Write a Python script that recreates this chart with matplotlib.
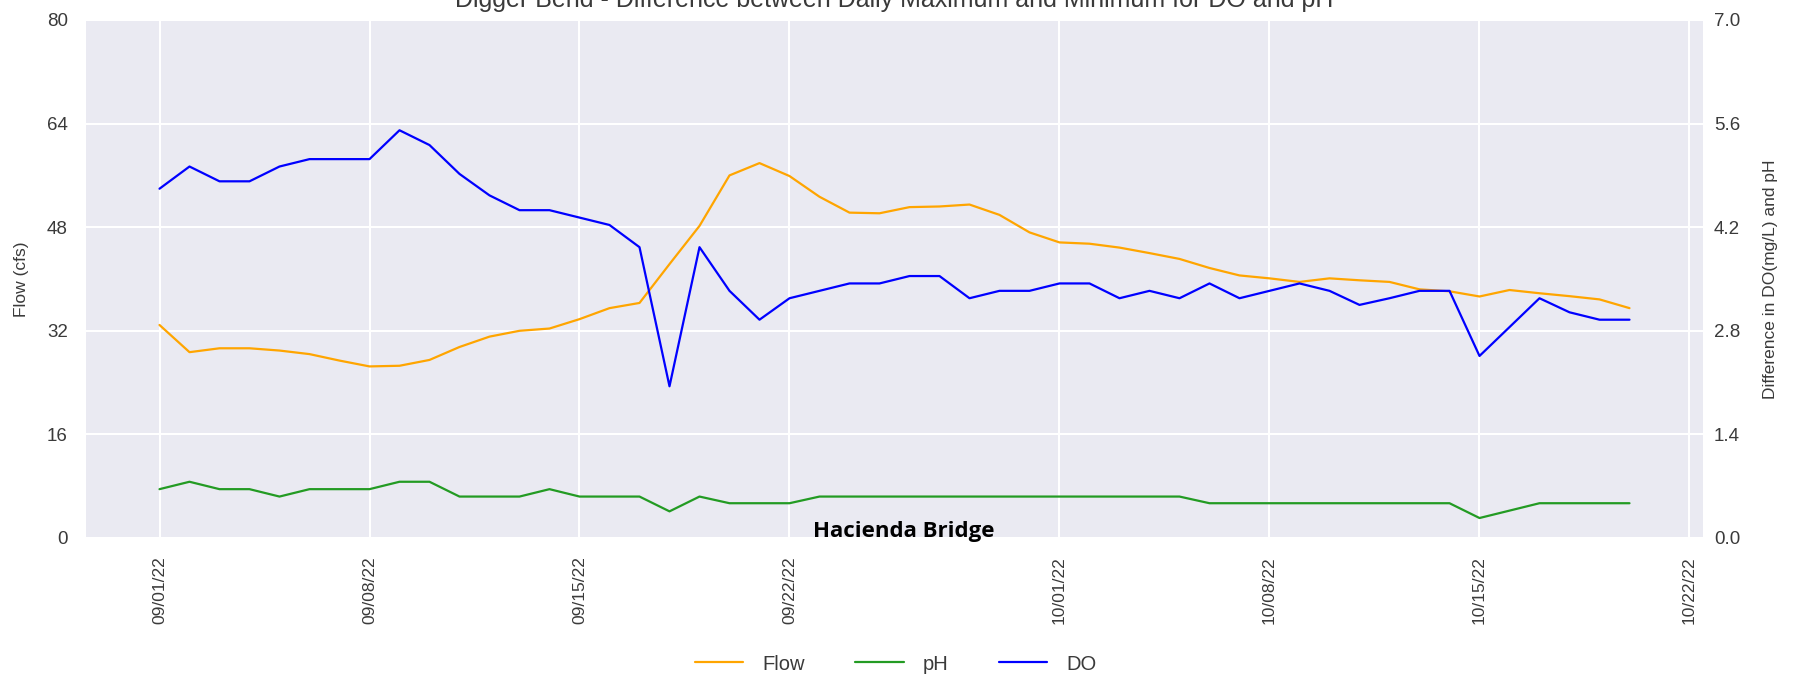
import matplotlib
matplotlib.use('Agg')
import matplotlib.pyplot as plt
import matplotlib.dates as mdates
from matplotlib.ticker import FormatStrFormatter
import numpy as np
import pandas as pd

# daily values, 09/01/22 - 10/20/22
dates = pd.date_range('2022-09-01', '2022-10-20', freq='D')

flow = [32.9, 28.7, 29.3, 29.3, 28.95, 28.4, 27.4, 26.5, 26.6, 27.5,
        29.5, 31.1, 32.0, 32.35, 33.8, 35.5, 36.3, 42.3, 48.2, 56.0,
        57.9, 55.9, 52.7, 50.25, 50.15, 51.1, 51.2, 51.5, 49.9, 47.2,
        45.65, 45.45, 44.85, 44.0, 43.1, 41.7, 40.55, 40.1, 39.55, 40.1,
        39.8, 39.55, 38.4, 38.1, 37.3, 38.3, 37.8, 37.35, 36.85, 35.5]

ph = [0.66, 0.76, 0.66, 0.66, 0.56, 0.66, 0.66, 0.66, 0.76, 0.76,
      0.56, 0.56, 0.56, 0.66, 0.56, 0.56, 0.56, 0.36, 0.56, 0.47,
      0.47, 0.47, 0.56, 0.56, 0.56, 0.56, 0.56, 0.56, 0.56, 0.56,
      0.56, 0.56, 0.56, 0.56, 0.56, 0.47, 0.47, 0.47, 0.47, 0.47,
      0.47, 0.47, 0.47, 0.47, 0.27, 0.37, 0.47, 0.47, 0.47, 0.47]

do = [4.72, 5.02, 4.82, 4.82, 5.02, 5.12, 5.12, 5.12, 5.51, 5.31,
      4.92, 4.63, 4.43, 4.43, 4.33, 4.23, 3.93, 2.05, 3.93, 3.34,
      2.95, 3.24, 3.34, 3.44, 3.44, 3.54, 3.54, 3.24, 3.34, 3.34,
      3.44, 3.44, 3.24, 3.34, 3.24, 3.44, 3.24, 3.34, 3.44, 3.34,
      3.15, 3.24, 3.34, 3.34, 2.46, 2.85, 3.24, 3.05, 2.95, 2.95]

plt.style.use('seaborn-v0_8')
plt.rcParams['font.family'] = ['Liberation Sans', 'DejaVu Sans']
plt.rcParams['grid.linewidth'] = 1.5

fig = plt.figure(figsize=(18.06, 6.8), dpi=100)
ax = fig.add_axes([86 / 1806, 1 - 538 / 680, 1617 / 1806, 518 / 680])
ax2 = ax.twinx()

l1, = ax.plot(dates, flow, color='orange', lw=1.6, label='Flow')
l2, = ax2.plot(dates, ph, color='#239b23', lw=1.6, label='pH')
l3, = ax2.plot(dates, do, color='blue', lw=1.6, label='DO')

# оси
ax.set_ylim(0, 80)
ax.set_yticks(np.linspace(0, 80, 6))
ax2.set_ylim(0, 7)
ax2.set_yticks(np.linspace(0, 7, 6))
ax2.yaxis.set_major_formatter(FormatStrFormatter('%.1f'))
ax2.grid(False)

ax.xaxis.set_major_locator(mdates.DayLocator(bymonthday=[1, 8, 15, 22]))
ax.xaxis.set_major_formatter(mdates.DateFormatter('%m/%d/%y'))
plt.setp(ax.get_xticklabels(), rotation=90)

ax.tick_params(axis='x', labelsize=12.5, pad=13, labelcolor='#3a3a3a')
ax.tick_params(axis='y', labelsize=13.5, pad=13, labelcolor='#3a3a3a')
ax2.tick_params(axis='y', labelsize=13.5, pad=8, labelcolor='#3a3a3a')

ax.set_ylabel('Flow (cfs)', fontsize=12.5, color='#3a3a3a')
ax.yaxis.set_label_coords(-0.035, 0.5)
ax2.set_ylabel('Difference in DO(mg/L) and pH', fontsize=12.5, color='#3a3a3a')
ax2.yaxis.set_label_coords(1.037, 0.5)

ax.set_title('Digger Bend - Difference between Daily Maximum and Minimum for DO and pH',
             fontsize=18, pad=9, color='#3a3a3a')

fig.text(813 / 1806, 1 - 537.5 / 680, 'Hacienda Bridge', family=['Open Sans', 'DejaVu Sans'],
         fontweight='bold', fontsize=16, color='black', va='baseline', ha='left')

fig.legend(handles=[l1, l2, l3], loc='center', bbox_to_anchor=(0.496, 0.0235), ncol=3,
           frameon=False, fontsize=14.5, handlelength=2.4, columnspacing=2.5,
           handletextpad=0.95, labelcolor='#3a3a3a')

fig.savefig('out.png', dpi=100)
